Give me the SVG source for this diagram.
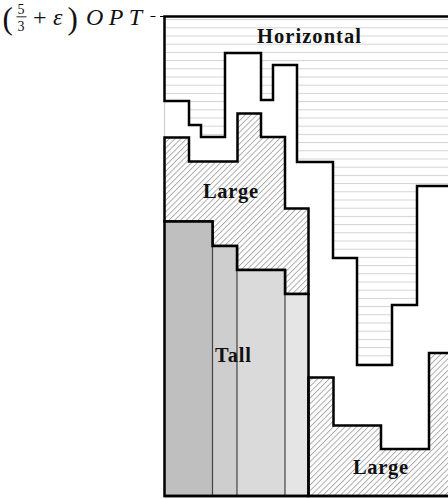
<svg xmlns="http://www.w3.org/2000/svg" width="448" height="499" viewBox="0 0 448 499">
<defs>
<pattern id="hz" patternUnits="userSpaceOnUse" x="0" y="19.1" width="20" height="8.2">
<line x1="0" y1="0.5" x2="20" y2="0.5" stroke="#d2d2d2" stroke-width="1"/>
</pattern>
<pattern id="dg" patternUnits="userSpaceOnUse" width="4.1" height="10" patternTransform="rotate(45)">
<line x1="0.5" y1="0" x2="0.5" y2="10" stroke="#8f8f8f" stroke-width="0.8"/>
</pattern>
<style>
.out{stroke:#000;stroke-width:2.5;stroke-linejoin:miter;}
.lbl{font-family:"Liberation Serif",serif;font-weight:bold;font-size:20.5px;fill:#111;}
.math{font-family:"Liberation Serif",serif;fill:#111;}
.div{stroke:#444;stroke-width:1.2;}
</style>
</defs>
<rect x="0" y="0" width="448" height="499" fill="#fff"/>
<rect id="frame" x="164.5" y="16.5" width="300" height="479.5" fill="#fff" stroke="#cfcfcf" stroke-width="1.2"/>

<g id="horizontal">
<path class="out" fill="url(#hz)" d="M164.5,16.5 H452 V186 H417 V305 H392 V365 H357 V258 H333 V162 H297 V65 H273 V100 H261 V53 H225 V137 H201 V125 H189 V101 H164.5 Z"/>
<text class="lbl" x="257" y="43" textLength="104" lengthAdjust="spacing">Horizontal</text>
</g>

<g id="large-upper">
<path class="out" fill="url(#dg)" d="M164.5,137.5 H189 V161.5 H237.5 V113.5 H261 V137 H285 V208.5 H308.5 V294 H285 V270 H237 V246 H212.5 V221.5 H164.5 Z"/>
<text class="lbl" x="203" y="197.5" textLength="55" lengthAdjust="spacing">Large</text>
</g>

<g id="tall">
<rect x="164.5" y="221.5" width="48" height="274.5" fill="#bfbfbf"/>
<rect x="212.5" y="246" width="24.5" height="250" fill="#cecece"/>
<rect x="237" y="270" width="48" height="226" fill="#dadada"/>
<rect x="285" y="294" width="23.5" height="202" fill="#e5e5e5"/>
<line class="div" x1="212.5" y1="246" x2="212.5" y2="496"/>
<line class="div" x1="237" y1="270" x2="237" y2="496"/>
<line class="div" x1="285" y1="294" x2="285" y2="496"/>
<path class="out" fill="none" d="M164.5,496 V221.5 H212.5 V246 H237 V270 H285 V294 H308.5 V496 Z"/>
<text class="lbl" x="215" y="361.5" textLength="36" lengthAdjust="spacing">Tall</text>
</g>

<g id="large-lower">
<path class="out" fill="url(#dg)" d="M308.5,377.5 H333.5 V425.5 H381 V449 H429 V353 H452 V496 H308.5 Z"/>
<text class="lbl" x="353" y="473.5" textLength="55" lengthAdjust="spacing">Large</text>
</g>

<g id="bottom-edge">
<line class="out" x1="164.5" y1="496" x2="452" y2="496"/>
</g>

<g id="connectors">
<line x1="150.5" y1="16.5" x2="164.5" y2="16.5" stroke="#000" stroke-width="1" stroke-dasharray="5,4.5"/>
</g>

<g id="level-label" class="math">
<text x="2.5" y="28.5" font-size="31" font-family="Liberation Serif, serif">(</text>
<text x="17.5" y="14" font-size="14" font-family="Liberation Serif, serif">5</text>
<line x1="16.5" y1="16.8" x2="26.5" y2="16.8" stroke="#111" stroke-width="0.9"/>
<text x="17.5" y="30.5" font-size="14" font-family="Liberation Serif, serif">3</text>
<text x="33" y="25" font-size="24" font-family="Liberation Serif, serif">+</text>
<text x="53" y="25" font-size="24" font-style="italic" font-family="Liberation Serif, serif">ε</text>
<text x="67.5" y="28.5" font-size="31" font-family="Liberation Serif, serif">)</text>
<text x="86" y="25" font-size="24" font-style="italic" font-family="Liberation Serif, serif" textLength="56" lengthAdjust="spacing">OPT</text>
</g>
</svg>
